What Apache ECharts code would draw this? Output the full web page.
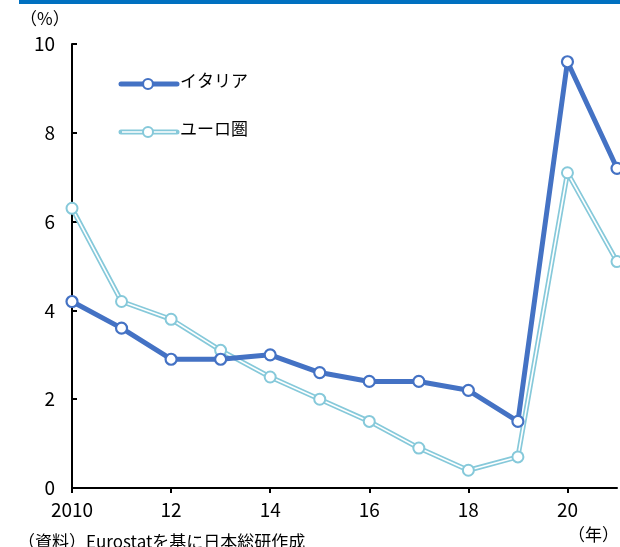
<!DOCTYPE html>
<html>
<head>
<meta charset="utf-8">
<script src="https://cdn.jsdelivr.net/npm/echarts@6/dist/echarts.min.js"></script>
<style>
  html, body { margin: 0; padding: 0; background: #fff; }
  #chart { width: 620px; height: 547px; }
</style>
</head>
<body>
<div id="chart"></div>
<script>
// Unemployment rate, Italy vs. euro area (%)
const years = [2010, 2011, 2012, 2013, 2014, 2015, 2016, 2017, 2018, 2019, 2020, 2021];
const italy = [4.2, 3.6, 2.9, 2.9, 3.0, 2.6, 2.4, 2.4, 2.2, 1.5, 9.6, 7.2];
const euroArea = [6.3, 4.2, 3.8, 3.1, 2.5, 2.0, 1.5, 0.9, 0.4, 0.7, 7.1, 5.1];
const yTicks = [0, 2, 4, 6, 8, 10];

const FONT = '"Noto Sans CJK JP", "Noto Sans", sans-serif';
const ITALY_COLOR = '#4472C4';
const EURO_COLOR = '#86C9DA';

const pairs = (vals) => years.map((y, i) => [y, vals[i]]);

const chart = echarts.init(document.getElementById('chart'));
chart.setOption({
  animation: false,
  grid: { left: 72, right: 3, top: 44, bottom: 59 },
  xAxis: {
    type: 'value',
    min: 2010,
    max: 2021,
    interval: 2,
    axisLine: { show: true, lineStyle: { color: '#000', width: 2 } },
    axisTick: { show: true, length: 5, lineStyle: { color: '#000', width: 2 } },
    splitLine: { show: true, lineStyle: { color: 'rgba(0,0,0,0)' } },
    axisLabel: {
      color: '#000', fontSize: 19, fontFamily: FONT, margin: 12,
      showMaxLabel: false,
      formatter: (v) => (v === 2010 ? '2010' : String(v % 100).padStart(2, '0'))
    }
  },
  yAxis: {
    type: 'value',
    min: yTicks[0],
    max: yTicks[yTicks.length - 1],
    interval: 2,
    axisLine: { show: true, lineStyle: { color: '#000', width: 2 } },
    axisTick: { show: true, inside: true, length: 5, lineStyle: { color: '#000', width: 2 } },
    splitLine: { show: true, lineStyle: { color: 'rgba(0,0,0,0)' } },
    axisLabel: { color: '#000', fontSize: 19, fontFamily: FONT, margin: 17 }
  },
  series: [
    {
      name: 'ユーロ圏',
      type: 'line',
      data: pairs(euroArea),
      clip: false,
      symbol: 'none',
      lineStyle: { color: EURO_COLOR, width: 5 },
      z: 2
    },
    {
      name: 'ユーロ圏-core',
      type: 'line',
      data: pairs(euroArea),
      clip: false,
      symbol: 'circle',
      symbolSize: 11,
      itemStyle: { color: '#fff', borderColor: EURO_COLOR, borderWidth: 2 },
      lineStyle: { color: '#fff', width: 1.6 },
      z: 3
    },
    {
      name: 'イタリア',
      type: 'line',
      data: pairs(italy),
      clip: false,
      symbol: 'circle',
      symbolSize: 11,
      itemStyle: { color: '#fff', borderColor: ITALY_COLOR, borderWidth: 2.2 },
      lineStyle: { color: ITALY_COLOR, width: 5 },
      z: 4
    }
  ],
  graphic: [
    // header bar
    { type: 'rect', shape: { x: 19, y: 0, width: 601, height: 4 }, style: { fill: '#0070C0' } },
    // unit labels
    { type: 'text', left: 20, top: 10, style: { text: '（%）', font: '17px ' + FONT, fill: '#000' } },
    { type: 'text', right: 1, top: 526, style: { text: '（年）', font: '17px ' + FONT, fill: '#000' } },
    { type: 'text', left: 18, top: 533, style: { text: '（資料）Eurostatを基に日本総研作成', font: '17px ' + FONT, fill: '#000' } },
    // legend: Italy
    { type: 'line', shape: { x1: 121, y1: 84, x2: 177, y2: 84 }, style: { stroke: ITALY_COLOR, lineWidth: 5, lineCap: 'round' }, z: 10 },
    { type: 'circle', shape: { cx: 148, cy: 84, r: 5 }, style: { fill: '#fff', stroke: ITALY_COLOR, lineWidth: 2.2 }, z: 11 },
    { type: 'text', left: 180, top: 72, style: { text: 'イタリア', font: '17px ' + FONT, fill: '#000' }, z: 11 },
    // legend: euro area (double line)
    { type: 'line', shape: { x1: 121, y1: 132, x2: 177, y2: 132 }, style: { stroke: EURO_COLOR, lineWidth: 5, lineCap: 'round' }, z: 10 },
    { type: 'line', shape: { x1: 122, y1: 132, x2: 176, y2: 132 }, style: { stroke: '#fff', lineWidth: 1.6 }, z: 11 },
    { type: 'circle', shape: { cx: 148, cy: 132, r: 5 }, style: { fill: '#fff', stroke: EURO_COLOR, lineWidth: 2 }, z: 12 },
    { type: 'text', left: 180, top: 120, style: { text: 'ユーロ圏', font: '17px ' + FONT, fill: '#000' }, z: 11 }
  ]
});
</script>
</body>
</html>
